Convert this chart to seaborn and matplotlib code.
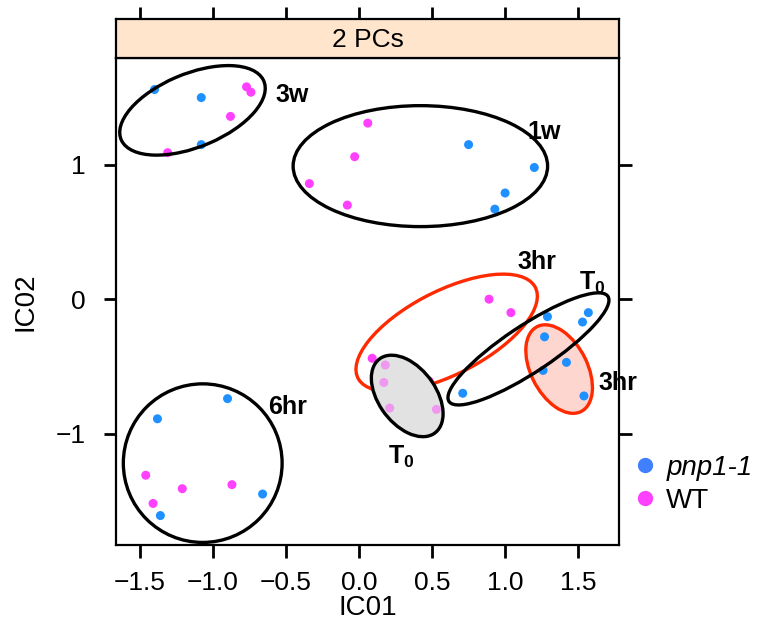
import numpy as np
import pandas as pd
import matplotlib
matplotlib.use('Agg')
import matplotlib.pyplot as plt
from matplotlib.patches import Ellipse
from matplotlib.lines import Line2D
import seaborn as sns

# --- Data ---
ic01 = [-1.40, -1.08, -1.08, -0.77, -0.74, -0.88, -1.31,          # 3w
        0.75, 1.20, 1.00, 0.93, 0.06, -0.03, -0.34, -0.08,          # 1w
        0.89, 1.04, 0.09, 0.48,                                     # 3hr WT
        0.18, 0.17, 0.21, 0.53,                                     # T0 WT
        1.29, 1.57, 1.53, 0.71,                                     # T0 pnp1-1
        1.27, 1.42, 1.26, 1.54,                                     # 3hr pnp1-1
        -0.90, -1.38, -0.66, -1.36, -1.46, -1.21, -0.87, -1.41]     # 6hr
ic02 = [1.56, 1.50, 1.15, 1.58, 1.54, 1.36, 1.09,
        1.15, 0.98, 0.79, 0.67, 1.31, 1.06, 0.86, 0.70,
        0.00, -0.10, -0.44, -0.61,
        -0.49, -0.62, -0.81, -0.82,
        -0.13, -0.10, -0.17, -0.70,
        -0.28, -0.47, -0.53, -0.72,
        -0.74, -0.89, -1.45, -1.61, -1.31, -1.41, -1.38, -1.52]
genotype = (['pnp1-1'] * 3 + ['WT'] * 4 +
            ['pnp1-1'] * 4 + ['WT'] * 4 +
            ['WT'] * 4 + ['WT'] * 4 +
            ['pnp1-1'] * 4 + ['pnp1-1'] * 4 +
            ['pnp1-1'] * 4 + ['WT'] * 4)

# group outlines: centre, full axes, rotation
ell_name = ['3w', '1w', '6hr', '3hr WT', 'T0 pnp', '3hr pnp', 'T0 WT']
ell_x = [-1.14, 0.42, -1.07, 0.60, 1.16, 1.37, 0.33]
ell_y = [1.405, 0.99, -1.22, -0.25, -0.37, -0.52, -0.72]
ell_w = [1.07, 1.742, 1.087, 1.39, 1.34, 0.70, 0.67]
ell_h = [0.54, 0.90, 1.18, 0.61, 0.34, 0.39, 0.40]
ell_angle = [25, 0, 0, 30, 36, -66, -58]

lab_text = ['3w', '1w', '3hr', r'$\mathbf{T_0}$', '3hr', '6hr', r'$\mathbf{T_0}$']
lab_x = [-0.46, 1.27, 1.22, 1.60, 1.77, -0.49, 0.29]
lab_y = [1.52, 1.245, 0.28, 0.12, -0.62, -0.80, -1.17]

df = pd.DataFrame({'IC01': ic01, 'IC02': ic02, 'genotype': genotype})

BLUE = '#1E90FF'
MAGENTA = '#FF40FF'
RED = '#FF2A00'

sns.set_style('ticks')
plt.rcParams['font.family'] = ['Liberation Sans', 'DejaVu Sans']
plt.rcParams['mathtext.fontset'] = 'custom'
plt.rcParams['mathtext.rm'] = 'Liberation Sans'
plt.rcParams['mathtext.bf'] = 'Liberation Sans:bold'
plt.rcParams['text.color'] = 'black'
plt.rcParams['axes.labelcolor'] = 'black'
plt.rcParams['xtick.color'] = 'black'
plt.rcParams['ytick.color'] = 'black'

fig = plt.figure(figsize=(7.73, 6.34), dpi=100)
ax = fig.add_axes([0.150, 0.1404, 0.651, 0.768])
strip = fig.add_axes([0.150, 0.9085, 0.651, 0.0615])

xlim = (-1.664, 1.781)
ylim = (-1.829, 1.794)
xticks = [-1.5, -1.0, -0.5, 0.0, 0.5, 1.0, 1.5]

sns.scatterplot(data=df, x='IC01', y='IC02', hue='genotype',
                palette={'pnp1-1': BLUE, 'WT': MAGENTA},
                s=42, edgecolor='none', legend=False, ax=ax, zorder=4)

# outlines
style = {
    '3w': dict(ec='black', fc='none', z=6),
    '1w': dict(ec='black', fc='none', z=6),
    '6hr': dict(ec='black', fc='none', z=6),
    '3hr WT': dict(ec=RED, fc='none', z=6),
    'T0 pnp': dict(ec='black', fc='none', z=7),
    '3hr pnp': dict(ec=RED, fc='#FDD6D0', z=6),
    'T0 WT': dict(ec='black', fc='#E2E2E2', z=6.7),
}
for name, x, y, w, h, a in zip(ell_name, ell_x, ell_y, ell_w, ell_h, ell_angle):
    st = style[name]
    if st['fc'] != 'none':
        ax.add_patch(Ellipse((x, y), w, h, angle=a, fc=st['fc'], ec='none',
                             zorder=2 if name == '3hr pnp' else 6.5))
        if name == 'T0 WT':
            # soft overlay so the points underneath look washed out
            ax.add_patch(Ellipse((x, y), w, h, angle=a, fc=st['fc'], ec='none',
                                 alpha=0.55, zorder=6.6))
    ax.add_patch(Ellipse((x, y), w, h, angle=a, fc='none', ec=st['ec'],
                         lw=2.4, zorder=st['z']))

# the gray ellipse sits above the red outline; its points go on top of it
wt_t0 = df.iloc[19:23]
ax.scatter(wt_t0['IC01'], wt_t0['IC02'], s=42, color=MAGENTA, edgecolor='none',
           zorder=6.55)

for t, x, y in zip(lab_text, lab_x, lab_y):
    ax.text(x, y, t, fontsize=18, fontweight='bold', ha='center', va='center',
            zorder=8, clip_on=False)

ax.set_xlim(*xlim)
ax.set_ylim(*ylim)
ax.set_xticks(xticks)
ax.set_yticks([-1, 0, 1])
ax.set_xlabel('IC01', fontsize=20, labelpad=0)
ax.set_ylabel('IC02', fontsize=20, labelpad=12)
ax.tick_params(direction='out', length=9, width=2, labelsize=19,
               top=False, right=True, color='black')
ax.tick_params(axis='x', pad=10)
ax.tick_params(axis='y', pad=13)
for sp in ax.spines.values():
    sp.set_linewidth(1.6)
    sp.set_color('black')

strip.set_xlim(*xlim)
strip.set_facecolor('#FFE5CC')
strip.set_xticks(xticks)
strip.set_yticks([])
strip.tick_params(axis='x', direction='out', length=9, width=2, bottom=False,
                  top=True, labelbottom=False, labeltop=False, color='black')
for sp in strip.spines.values():
    sp.set_linewidth(1.6)
    sp.set_color('black')
strip.text(0.5, 0.47, '2 PCs', transform=strip.transAxes, ha='center',
           va='center', fontsize=19)

handles = [Line2D([], [], marker='o', ls='none', color='#4080FF', markersize=10),
           Line2D([], [], marker='o', ls='none', color='#FF40FF', markersize=10)]
leg = fig.legend(handles, ['pnp1-1', 'WT'], loc='center left',
                 bbox_to_anchor=(0.781, 0.236), frameon=False, fontsize=20,
                 handletextpad=0.15, labelspacing=0.25, handlelength=1.2)
leg.get_texts()[0].set_fontstyle('italic')

fig.savefig('out.png', dpi=100)
